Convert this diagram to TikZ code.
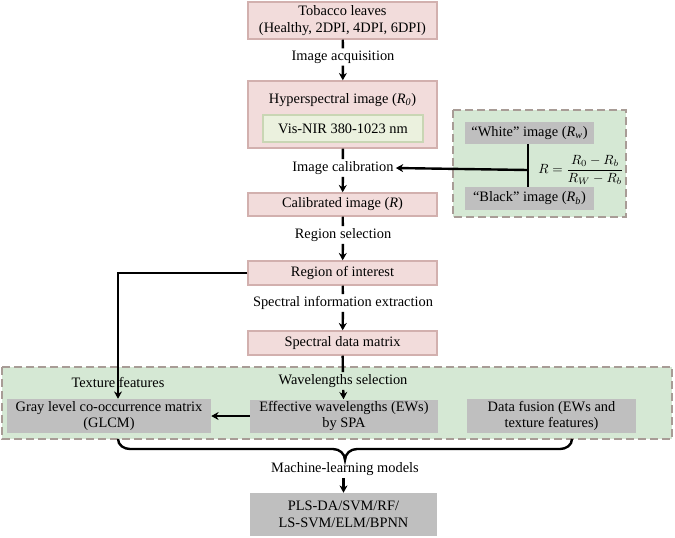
\documentclass[tikz,border=0pt]{standalone}
\usepackage{amsmath}
\usepackage{fontspec}
\setmainfont{Liberation Serif}
\usetikzlibrary{arrows.meta,calc}
\definecolor{pinkfill}{HTML}{F2DCDB}
\definecolor{pinkline}{HTML}{D2B0AE}
\definecolor{greenfill}{HTML}{D5E8D4}
\definecolor{innerfill}{HTML}{EBF1DE}
\definecolor{innerline}{HTML}{C9D6B4}
\definecolor{dashline}{HTML}{A89C96}
\definecolor{grayfill}{HTML}{BFBFBF}
\begin{document}
\begin{tikzpicture}[x=0.75pt,y=-0.75pt,
  font=\fontsize{10.8}{12.6}\selectfont,
  pinkbox/.style={draw=pinkline,fill=pinkfill,line width=1.1pt,inner sep=0pt,align=center},
  graybox/.style={fill=grayfill,inner sep=0pt,align=center},
  region/.style={draw=dashline,fill=greenfill,line width=1.4pt,dash pattern=on 6pt off 3pt},
  lab/.style={inner sep=1.5pt},
  conn/.style={line width=1.8pt},
  arr/.style={line width=1.8pt,-{Stealth[length=5.5pt,width=6pt]}}]
\useasboundingbox (0,0) rectangle (675,537);
% regions
\draw[region] (453,110) rectangle (626,217);
\draw[region] (2,367) rectangle (672,439);
% main boxes
\node[pinkbox,minimum width=189*0.75pt,minimum height=37*0.75pt] (b1) at (342.5,20.5) {Tobacco leaves\\(Healthy, 2DPI, 4DPI, 6DPI)};
\node[pinkbox,minimum width=189*0.75pt,minimum height=67*0.75pt] (b2) at (342.5,114.5) {};
\node (b2t) at (342.5,100) {Hyperspectral image (\textit{R}\textsubscript{\textit{0}})};
\node[draw=innerline,fill=innerfill,line width=0.8pt,minimum width=160*0.75pt,minimum height=27*0.75pt,inner sep=0pt] (vis) at (343,128.5) {Vis-NIR 380-1023 nm};
\node[pinkbox,minimum width=189*0.75pt,minimum height=23*0.75pt] (b3) at (342.5,204.5) {Calibrated image (\textit{R})};
\node[pinkbox,minimum width=189*0.75pt,minimum height=24*0.75pt] (b4) at (342.5,273) {Region of interest};
\node[pinkbox,minimum width=189*0.75pt,minimum height=24*0.75pt] (b5) at (342.5,343) {Spectral data matrix};
% calibration boxes
\node[graybox,minimum width=129*0.75pt,minimum height=22*0.75pt] (white) at (529.5,133) {“White” image (\textit{R}\textsubscript{\textit{w}})};
\node[graybox,minimum width=129*0.75pt,minimum height=23*0.75pt] (black) at (529.5,198.5) {“Black” image (\textit{R}\textsubscript{\textit{b}})};
\node[inner sep=0pt,font=\fontsize{9.6}{11}\selectfont] (eq) at (581,170) {$R=\dfrac{R_0-R_b}{R_W-R_b}$};
% bottom boxes
\node[graybox,minimum width=204*0.75pt,minimum height=34*0.75pt] (glcm) at (109,416) {Gray level co-occurrence matrix\\(GLCM)};
\node[graybox,minimum width=188*0.75pt,minimum height=33*0.75pt] (ews) at (344,416) {Effective wavelengths (EWs)\\by SPA};
\node[graybox,minimum width=169*0.75pt,minimum height=34*0.75pt] (df) at (551.5,416) {Data fusion (EWs and\\texture features)};
\node[graybox,minimum width=187*0.75pt,minimum height=43*0.75pt] (final) at (343.5,514.5) {PLS-DA/SVM/RF/\\LS-SVM/ELM/BPNN};
% labels
\node[lab] (l1) at (343,57) {Image acquisition};
\node[lab] (l2) at (343,168) {Image calibration};
\node[lab] (l3) at (343,235) {Region selection};
\node[lab] (l4) at (343,303) {Spectral information extraction};
\node[lab] (l5) at (343,381) {Wavelengths selection};
\node[lab] (tex) at (118,382) {Texture features};
\node[lab] (ml) at (345,469) {Machine-learning models};
\coordinate (brL) at (118,439);
\coordinate (brR) at (572,439);
\coordinate (brT) at (345,460);
\coordinate (jn) at (528,170);
% connectors
\draw[conn] (b1) -- (l1);
\draw[arr] (l1) -- (b2);
\draw[conn] (b2) -- (l2);
\draw[arr] (l2) -- (b3);
\draw[conn] (b3) -- (l3);
\draw[arr] (l3) -- (b4);
\draw[conn] (b4) -- (l4);
\draw[arr] (l4) -- (b5);
\draw[conn] (b5) -- (l5);
\draw[arr] (l5) -- (ews);
\draw[conn] (white.south -| jn) -- (black.north -| jn);
\draw[arr] (jn) -- (l2.east);
\draw[arr] (b4.west) -| (glcm.north -| tex);
\draw[arr] (ews.west) -- (glcm.east);
\draw[conn] (brL) to[out=-90,in=180] (130,449) -- (333,449) to[out=0,in=90] (brT) to[out=90,in=180] (357,449) -- (560,449) to[out=0,in=-90] (brR);
\draw[conn] (brT) -- (ml.north);
\draw[arr] (ml.south -| final) -- (final);
\end{tikzpicture}
\end{document}
